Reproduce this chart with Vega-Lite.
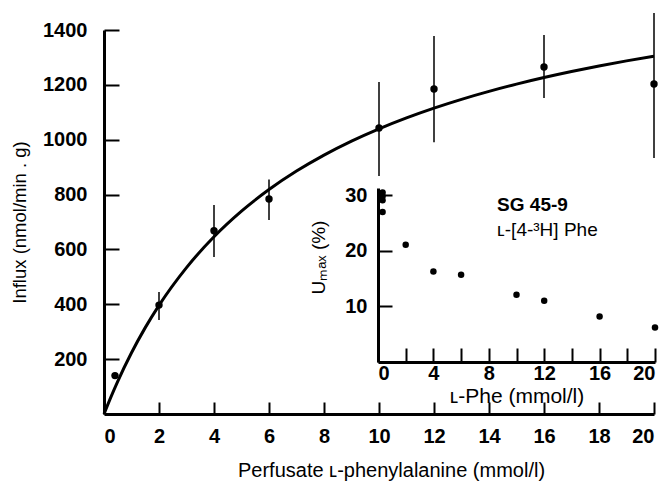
{
  "$schema": "https://vega.github.io/schema/vega-lite/v6.json",
  "width": 550,
  "height": 384,
  "autosize": {"type": "none"},
  "padding": {"left": 104, "top": 30, "right": 14, "bottom": 67},
  "background": "white",
  "config": {
    "view": {"stroke": null},
    "font": "Liberation Sans",
    "axis": {
      "grid": false,
      "domainColor": "black",
      "domainWidth": 3,
      "tickColor": "black",
      "tickWidth": 2,
      "labelColor": "black",
      "labelFont": "Liberation Sans",
      "labelFontSize": 20,
      "labelFontWeight": "bold",
      "titleColor": "black",
      "titleFont": "Liberation Sans",
      "titleFontSize": 18.5,
      "titleFontWeight": "normal",
      "format": "d"
    }
  },
  "datasets": {
    "main": [
      {"conc": 0.4, "influx": 140, "lo": 132, "hi": 148},
      {"conc": 2, "influx": 397, "lo": 343, "hi": 445},
      {"conc": 4, "influx": 668, "lo": 572, "hi": 762},
      {"conc": 6, "influx": 784, "lo": 707, "hi": 855},
      {"conc": 10, "influx": 1043, "lo": 868, "hi": 1210},
      {"conc": 12, "influx": 1185, "lo": 991, "hi": 1378},
      {"conc": 16, "influx": 1265, "lo": 1152, "hi": 1382},
      {"conc": 20, "influx": 1203, "lo": 933, "hi": 1462}
    ],
    "curve": [
      {"conc": 0, "influx": 0},
      {"conc": 0.25, "influx": 61.7},
      {"conc": 0.5, "influx": 119.3},
      {"conc": 1, "influx": 223.3},
      {"conc": 1.5, "influx": 314.9},
      {"conc": 2, "influx": 396.2},
      {"conc": 3, "influx": 533.8},
      {"conc": 4, "influx": 646.1},
      {"conc": 5, "influx": 739.4},
      {"conc": 6, "influx": 818.2},
      {"conc": 7, "influx": 885.6},
      {"conc": 8, "influx": 943.9},
      {"conc": 9, "influx": 994.9},
      {"conc": 10, "influx": 1039.8},
      {"conc": 11, "influx": 1079.7},
      {"conc": 12, "influx": 1115.3},
      {"conc": 13, "influx": 1147.3},
      {"conc": 14, "influx": 1176.3},
      {"conc": 15, "influx": 1202.6},
      {"conc": 16, "influx": 1226.6},
      {"conc": 17, "influx": 1248.6},
      {"conc": 18, "influx": 1268.8},
      {"conc": 19, "influx": 1287.5},
      {"conc": 20, "influx": 1304.8}
    ],
    "inset": [
      {"phe": 0.33, "umax": 30.5},
      {"phe": 0.33, "umax": 29.8},
      {"phe": 0.33, "umax": 29.1},
      {"phe": 0.33, "umax": 27.0},
      {"phe": 2, "umax": 21.1},
      {"phe": 4, "umax": 16.3},
      {"phe": 6, "umax": 15.7},
      {"phe": 10, "umax": 12.1},
      {"phe": 12, "umax": 11.0},
      {"phe": 16, "umax": 8.2},
      {"phe": 20, "umax": 6.2}
    ]
  },
  "layer": [
    {
      "encoding": {
        "x": {
          "field": "conc", "type": "quantitative",
          "scale": {"domain": [0, 20], "nice": false, "zero": false},
          "axis": {
            "orient": "bottom",
            "values": [0, 2, 4, 6, 8, 10, 12, 14, 16, 18, 20],
            "tickSize": -12,
            "labelPadding": 24,
            "title": "Perfusate ʟ-phenylalanine (mmol/l)",
            "titleFontSize": 20,
            "titlePadding": 14,
            "titleX": 287
          }
        },
        "y": {
          "field": "influx", "type": "quantitative",
          "scale": {"domain": [0, 1400], "nice": false},
          "axis": {
            "orient": "left",
            "values": [200, 400, 600, 800, 1000, 1200, 1400],
            "tickSize": -15,
            "labelPadding": 32,
            "title": "Influx (nmol/min . g)",
            "titlePadding": 13
          }
        }
      },
      "layer": [
        {
          "data": {"name": "curve"},
          "mark": {"type": "line", "color": "black", "strokeWidth": 3, "interpolate": "monotone"}
        },
        {
          "data": {"name": "main"},
          "mark": {"type": "rule", "color": "black", "strokeWidth": 1.5},
          "encoding": {"y": {"field": "lo", "type": "quantitative"}, "y2": {"field": "hi"}}
        },
        {
          "data": {"name": "main"},
          "mark": {"type": "point", "filled": true, "color": "black", "opacity": 1, "size": 55}
        }
      ]
    },
    {
      "encoding": {
        "x": {
          "field": "phe", "type": "quantitative",
          "scale": {"domain": [0, 20], "range": [274, 551], "nice": false, "zero": false},
          "axis": {
            "orient": "bottom",
            "offset": -52,
            "values": [0, 2, 4, 6, 8, 10, 12, 14, 16, 18, 20],
            "labelExpr": "datum.value % 4 == 0 ? datum.label : ''",
            "tickSize": -14,
            "labelPadding": 15,
            "title": "ʟ-Phe (mmol/l)",
            "titleFontSize": 21,
            "titlePadding": 2
          }
        },
        "y": {
          "field": "umax", "type": "quantitative",
          "scale": {"domain": [0, 31.3], "range": [332, 158], "nice": false},
          "axis": {
            "orient": "left",
            "offset": -274,
            "values": [10, 20, 30],
            "tickSize": -14,
            "labelPadding": 25,
            "title": "Uₘₐₓ (%)",
            "titleFontSize": 19,
            "titlePadding": 16,
            "titleY": 227
          }
        }
      },
      "layer": [
        {
          "data": {"name": "inset"},
          "mark": {"type": "point", "filled": true, "color": "black", "opacity": 1, "size": 42}
        },
        {
          "data": {"values": [{"phe": 8.6, "umax": 28.2, "note": "SG 45-9"}]},
          "mark": {"type": "text", "align": "left", "baseline": "middle", "fontSize": 19, "fontWeight": "bold", "font": "Liberation Sans"},
          "encoding": {"text": {"field": "note"}}
        },
        {
          "data": {"values": [{"phe": 8.6, "umax": 23.7, "note": "ʟ-[4-³H] Phe"}]},
          "mark": {"type": "text", "align": "left", "baseline": "middle", "fontSize": 19, "font": "Liberation Sans"},
          "encoding": {"text": {"field": "note"}}
        }
      ]
    }
  ],
  "resolve": {
    "scale": {"x": "independent", "y": "independent"},
    "axis": {"x": "independent", "y": "independent"}
  }
}
